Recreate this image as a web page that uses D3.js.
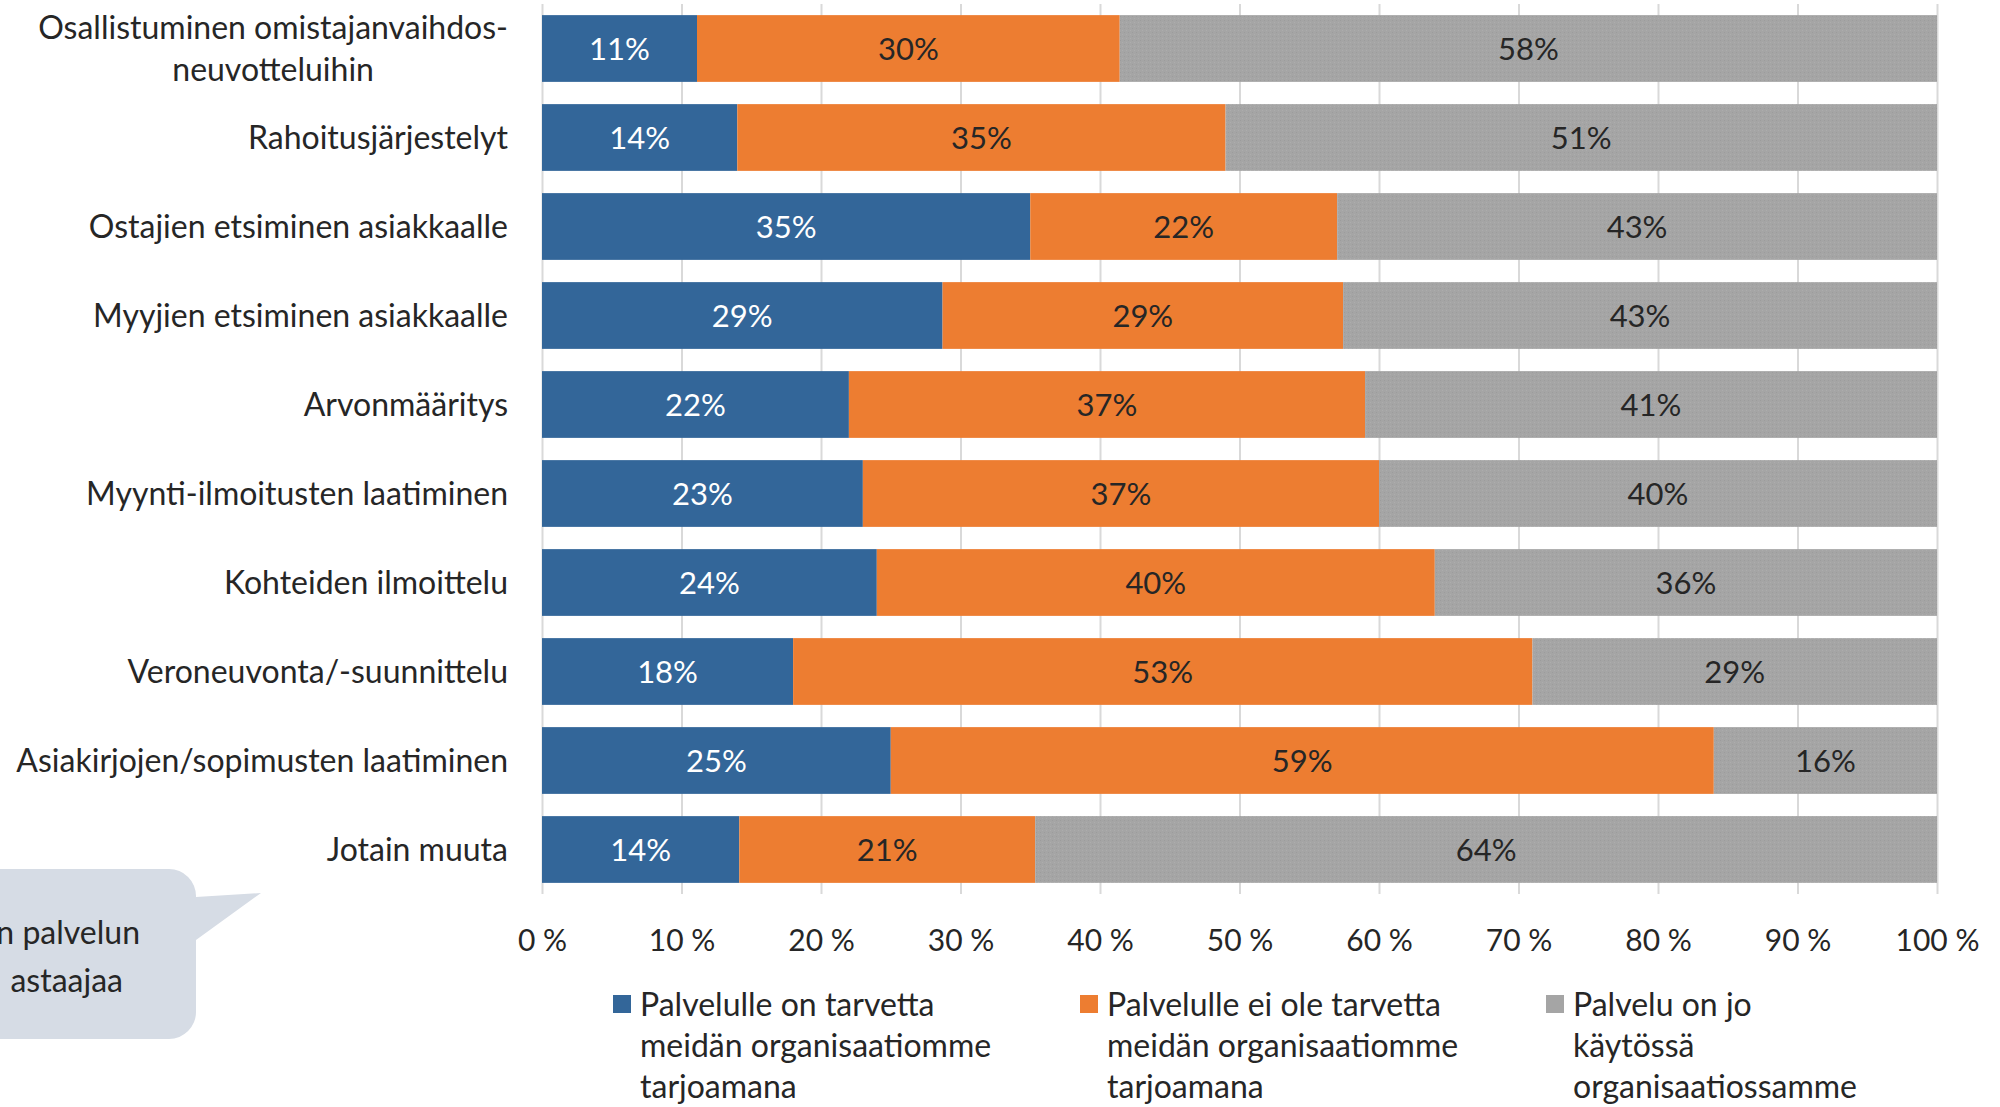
<!DOCTYPE html>
<html>
<head>
<meta charset="utf-8">
<script src="https://cdn.jsdelivr.net/npm/d3@7"></script>
<style>
html, body { margin: 0; padding: 0; background: #ffffff; overflow: hidden; }
svg { display: block; }
text { font-family: Lato, "Open Sans", sans-serif; }
</style>
</head>
<body>
<svg id="chart" width="2000" height="1107"></svg>
<script>
// ---- data ----
const categoryLines = [
  ["Osallistuminen omistajanvaihdos-", "neuvotteluihin"],
  ["Rahoitusjärjestelyt"],
  ["Ostajien etsiminen asiakkaalle"],
  ["Myyjien etsiminen asiakkaalle"],
  ["Arvonmääritys"],
  ["Myynti-ilmoitusten laatiminen"],
  ["Kohteiden ilmoittelu"],
  ["Veroneuvonta/-suunnittelu"],
  ["Asiakirjojen/sopimusten laatiminen"],
  ["Jotain muuta"]
];
const categories = categoryLines.map(l => l.join(" "));
const needValues   = [11, 14, 35, 29, 22, 23, 24, 18, 25, 14];
const noNeedValues = [30, 35, 22, 29, 37, 37, 40, 53, 59, 21];
const inUseValues  = [58, 51, 43, 43, 41, 40, 36, 29, 16, 64];
const seriesKeys = ["need", "noNeed", "inUse"];
const seriesLegend = [
  ["Palvelulle on tarvetta", "meidän organisaatiomme", "tarjoamana"],
  ["Palvelulle ei ole tarvetta", "meidän organisaatiomme", "tarjoamana"],
  ["Palvelu on jo", "käytössä", "organisaatiossamme"]
];
const xTickValues = [0, 0.1, 0.2, 0.3, 0.4, 0.5, 0.6, 0.7, 0.8, 0.9, 1.0];
const calloutLines = ["n palvelun", "astaajaa"];

// ---- layout ----
const colors = { need: "#336699", noNeed: "#ED7D31", inUse: "#A5A5A5" };
const labelColors = { need: "#ffffff", noNeed: "#262626", inUse: "#262626" };
const plot = { left: 542, right: 1937, top: 4, bottom: 894 };
const fontSize = 32;
const dataFontSize = 31;
const tickFontSize = 30;

const rows = categories.map((c, i) => ({
  category: c,
  need: needValues[i], noNeed: noNeedValues[i], inUse: inUseValues[i]
}));

const svg = d3.select("#chart");

// texture pattern for the grey series
const defs = svg.append("defs");
const pat = defs.append("pattern").attr("id", "greyTex")
  .attr("patternUnits", "userSpaceOnUse").attr("width", 4).attr("height", 4);
pat.append("rect").attr("width", 4).attr("height", 4).attr("fill", colors.inUse);
pat.append("rect").attr("x", 0).attr("y", 0).attr("width", 1).attr("height", 1).attr("fill", "#9c9c9c");
pat.append("rect").attr("x", 2).attr("y", 2).attr("width", 1).attr("height", 1).attr("fill", "#adadad");

const x = d3.scaleLinear().domain([0, 1]).range([plot.left, plot.right]);
const y = d3.scaleBand().domain(categories).range([plot.top, plot.bottom])
  .paddingInner(0.25).paddingOuter(0.125);

// gridlines
const grid = svg.append("g").attr("transform", `translate(0,${plot.bottom})`)
  .call(d3.axisBottom(x).tickValues(xTickValues).tickSize(-(plot.bottom - plot.top)).tickFormat(""));
grid.select(".domain").remove();
grid.selectAll(".tick line").attr("stroke", "#d9d9d9").attr("stroke-width", 2);

// stacked bars
const stack = d3.stack().keys(seriesKeys).offset(d3.stackOffsetExpand);
const series = stack(rows);

const gSeries = svg.append("g").selectAll("g").data(series).join("g")
  .attr("fill", s => s.key === "inUse" ? "url(#greyTex)" : colors[s.key]);
gSeries.selectAll("rect").data(s => s).join("rect")
  .attr("x", d => x(d[0]))
  .attr("width", d => x(d[1]) - x(d[0]))
  .attr("y", d => y(d.data.category))
  .attr("height", y.bandwidth());

// data labels
const gLabels = svg.append("g");
series.forEach(s => {
  gLabels.append("g").selectAll("text").data(s).join("text")
    .attr("x", d => (x(d[0]) + x(d[1])) / 2)
    .attr("y", d => y(d.data.category) + y.bandwidth() / 2)
    .attr("dy", "0.36em")
    .attr("text-anchor", "middle")
    .attr("font-size", dataFontSize)
    .attr("fill", labelColors[s.key])
    .text(d => d.data[s.key] + "%");
});

// x axis tick labels
const xAxis = svg.append("g").attr("transform", `translate(0,${plot.bottom})`)
  .call(d3.axisBottom(x).tickValues(xTickValues).tickSize(0).tickPadding(0)
    .tickFormat(d => Math.round(d * 100) + " %"));
xAxis.select(".domain").remove();
xAxis.selectAll("text").attr("font-size", tickFontSize).attr("fill", "#262626")
  .attr("font-family", "Lato").attr("y", 46).attr("dy", "0.36em");

// category labels
const labelRight = 508;
const gCat = svg.append("g");
categoryLines.forEach((lines, i) => {
  const cy = y(categories[i]) + y.bandwidth() / 2;
  const lh = 42;
  const t = gCat.append("text").attr("font-size", fontSize).attr("fill", "#262626");
  const spans = lines.map((ln, j) => t.append("tspan")
    .attr("y", cy + (j - (lines.length - 1) / 2) * lh).attr("dy", "0.36em").text(ln));
  // block right-aligned, lines centred within block
  const widths = spans.map(sp => sp.node().getComputedTextLength());
  const maxW = d3.max(widths);
  spans.forEach(sp => sp.attr("x", labelRight - maxW / 2).attr("text-anchor", "middle"));
});

// legend
const legendX = [613, 1080, 1546];
const gLeg = svg.append("g");
seriesKeys.forEach((k, i) => {
  gLeg.append("rect").attr("x", legendX[i]).attr("y", 995).attr("width", 18).attr("height", 18)
    .attr("fill", colors[k]);
  const t = gLeg.append("text").attr("font-size", fontSize).attr("fill", "#262626");
  seriesLegend[i].forEach((ln, j) => t.append("tspan").attr("x", legendX[i] + 27)
    .attr("y", 1004 + j * 41).attr("dy", "0.36em").text(ln));
});

// callout bubble
const gCall = svg.append("g");
const bx0 = -40, bx1 = 196, by0 = 869, by1 = 1039, r = 27;
const tail = [[bx1, 897], [261, 893], [bx1, 940]];
const path = d3.path();
path.moveTo(bx0 + r, by0);
path.lineTo(bx1 - r, by0);
path.arcTo(bx1, by0, bx1, by0 + r, r);
path.lineTo(tail[0][0], tail[0][1]);
path.lineTo(tail[1][0], tail[1][1]);
path.lineTo(tail[2][0], tail[2][1]);
path.lineTo(bx1, by1 - r);
path.arcTo(bx1, by1, bx1 - r, by1, r);
path.lineTo(bx0 + r, by1);
path.arcTo(bx0, by1, bx0, by1 - r, r);
path.lineTo(bx0, by0 + r);
path.arcTo(bx0, by0, bx0 + r, by0, r);
path.closePath();
gCall.append("path").attr("d", path.toString()).attr("fill", "#D6DCE5");
gCall.append("text").attr("x", 140).attr("y", 932).attr("dy", "0.36em").attr("text-anchor", "end")
  .attr("font-size", fontSize).attr("fill", "#262626").text(calloutLines[0]);
gCall.append("text").attr("x", 123).attr("y", 980).attr("dy", "0.36em").attr("text-anchor", "end")
  .attr("font-size", fontSize).attr("fill", "#262626").text(calloutLines[1]);
</script>
</body>
</html>
